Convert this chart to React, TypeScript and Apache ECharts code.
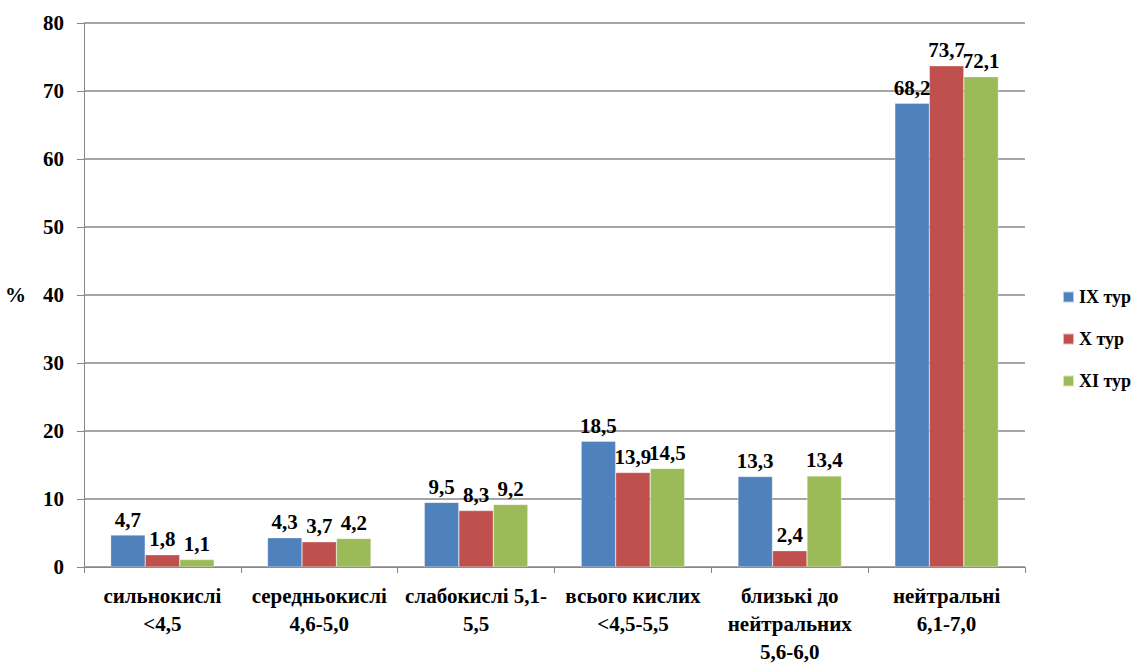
import React, { useEffect, useRef } from "react";
import * as echarts from "echarts";

const categories = [
  "сильнокислі\n<4,5",
  "середньокислі\n4,6-5,0",
  "слабокислі 5,1-\n5,5",
  "всього кислих\n<4,5-5,5",
  "близькі до\nнейтральних\n5,6-6,0",
  "нейтральні\n6,1-7,0",
];
const seriesNames = ["IX тур", "X тур", "XI тур"];
const tourIX = [4.7, 4.3, 9.5, 18.5, 13.3, 68.2];
const tourX = [1.8, 3.7, 8.3, 13.9, 2.4, 73.7];
const tourXI = [1.1, 4.2, 9.2, 14.5, 13.4, 72.1];
const colors = ["#4F81BD", "#C0504D", "#9BBB59"];

const FONT = "'Liberation Serif', 'Times New Roman', serif";

export default function App() {
  const ref = useRef<HTMLDivElement>(null);
  useEffect(() => {
    if (!ref.current) return;
    const chart = echarts.init(ref.current, null, { renderer: "svg" });
    const data = [tourIX, tourX, tourXI];
    chart.setOption({
      animation: false,
      textStyle: { fontFamily: FONT },
      grid: { left: 84, right: 113, top: 23, bottom: 98, containLabel: false },
      legend: {
        orient: "vertical",
        left: 1057,
        top: 283,
        itemWidth: 11,
        itemHeight: 11,
        itemGap: 24,
        icon: "rect",
        textStyle: { fontFamily: FONT, fontWeight: "bold", fontSize: 18, color: "#000" },
        data: seriesNames,
      },
      xAxis: {
        type: "category",
        data: categories,
        axisLine: { lineStyle: { color: "#868686", width: 1 } },
        axisTick: { show: true, alignWithLabel: false, length: 6, lineStyle: { color: "#868686" } },
        axisLabel: {
          interval: 0,
          margin: 15,
          fontFamily: FONT,
          fontWeight: "bold",
          fontSize: 21,
          color: "#000",
          lineHeight: 28,
        },
      },
      yAxis: {
        type: "value",
        min: 0,
        max: 80,
        interval: 10,
        name: "%",
        nameLocation: "middle",
        nameRotate: 0,
        nameGap: 58,
        nameTextStyle: { fontFamily: FONT, fontWeight: "bold", fontSize: 21, color: "#000" },
        axisLine: { show: true, lineStyle: { color: "#868686" } },
        axisTick: { show: true, length: 7, lineStyle: { color: "#868686" } },
        splitLine: { lineStyle: { color: "#878787", width: 1.5 } },
        axisLabel: {
          margin: 20,
          fontFamily: FONT,
          fontWeight: "bold",
          fontSize: 21,
          color: "#000",
        },
      },
      series: seriesNames.map((name, i) => ({
        name,
        type: "bar",
        data: data[i],
        barGap: "0%",
        barCategoryGap: "34%",
        itemStyle: { color: colors[i], borderColor: "rgba(255,255,255,0.6)", borderWidth: 0.5 },
        labelLayout: { moveOverlap: "shiftY" },
        label: {
          show: true,
          position: "top",
          distance: 5,
          fontFamily: FONT,
          fontWeight: "bold",
          fontSize: 21,
          color: "#000",
          formatter: (p: any) => String(p.value).replace(".", ","),
        },
      })),
    });
    return () => chart.dispose();
  }, []);
  return <div ref={ref} style={{ width: 1138, height: 666, position: "absolute", left: 0, top: 0 }} />;
}
